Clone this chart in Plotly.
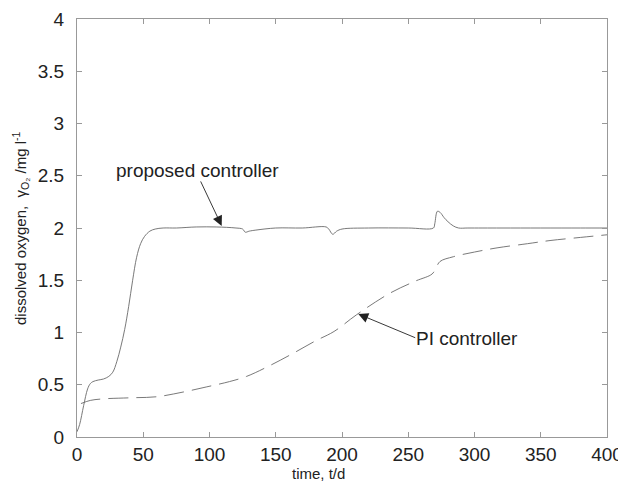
import plotly.graph_objects as go

# Proposed controller (solid line)
prop_t = [0, 2, 5, 8, 10, 12, 16, 20, 24, 27, 30, 33, 36, 39, 42, 45, 48, 51, 55, 59, 65, 75, 90, 105, 120, 125, 127, 130, 135, 150, 170, 188, 190, 193, 196, 200, 220, 250, 269, 270, 272, 274, 277, 280, 284, 288, 295, 320, 350, 380, 400]
prop_y = [0.05, 0.12, 0.3, 0.46, 0.51, 0.53, 0.545, 0.555, 0.58, 0.62, 0.72, 0.86, 1.03, 1.25, 1.5, 1.72, 1.85, 1.92, 1.97, 1.99, 2.0, 2.0, 2.01, 2.01, 2.0, 1.99, 1.96, 1.97, 1.98, 2.0, 2.0, 2.01, 1.99, 1.94, 1.97, 1.99, 2.0, 2.0, 2.0, 2.04, 2.16, 2.15, 2.1, 2.06, 2.02, 2.0, 2.0, 2.0, 2.0, 2.0, 2.0]

# PI controller (dashed line)
pi_t = [3, 10, 20, 40, 60, 80, 98, 115, 128, 145, 163, 180, 194, 211, 236, 255, 268, 271, 274, 284, 300, 317, 340, 357, 380, 400]
pi_y = [0.32, 0.35, 0.365, 0.375, 0.385, 0.43, 0.48, 0.53, 0.58, 0.68, 0.8, 0.92, 1.01, 1.17, 1.375, 1.49, 1.56, 1.62, 1.68, 1.725, 1.77, 1.81, 1.85, 1.88, 1.91, 1.935]

x_ticks = [0, 50, 100, 150, 200, 250, 300, 350, 400]
y_ticks = [0, 0.5, 1, 1.5, 2, 2.5, 3, 3.5, 4]
y_tick_text = ["0", "0.5", "1", "1.5", "2", "2.5", "3", "3.5", "4"]

x_title = "time, t/d"
y_title = "dissolved oxygen,  γ<sub>O₂</sub> /mg l<sup>-1</sup>"

labels = ["proposed controller", "PI controller"]
label_pos = [(91.3, 2.55), (294, 0.94)]
arrow_tail = [(92.8, 2.46), (256.4, 0.944)]
arrow_head = [(109.2, 2.02), (212.3, 1.177)]

fig = go.Figure()
fig.add_trace(go.Scatter(x=prop_t, y=prop_y, mode="lines",
                         line=dict(color="#6a6a6a", width=0.9), line_shape="spline",
                         showlegend=False))
fig.add_trace(go.Scatter(x=pi_t, y=pi_y, mode="lines",
                         line=dict(color="#6a6a6a", width=0.9, dash="20px,8px"),
                         line_shape="spline", showlegend=False))

font = "Liberation Sans, Arial, sans-serif"
for lab, (tx, ty) in zip(labels, label_pos):
    fig.add_annotation(x=tx, y=ty, text=lab, showarrow=False,
                       font=dict(family=font, size=19, color="#222222"))
for (ax, ay), (hx, hy) in zip(arrow_tail, arrow_head):
    fig.add_annotation(x=hx, y=hy, ax=ax, ay=ay, axref="x", ayref="y",
                       xref="x", yref="y", text="", showarrow=True,
                       arrowhead=2, arrowsize=2.2, arrowwidth=0.9,
                       arrowcolor="#222222")

# axis titles
fig.add_annotation(xref="paper", yref="paper", x=0.4566, y=-0.0885,
                   text=x_title, showarrow=False, xanchor="center", yanchor="middle",
                   font=dict(family=font, size=15, color="#222222"))
fig.add_annotation(xref="paper", yref="paper", x=-0.1075, y=0.5,
                   text=y_title, showarrow=False, textangle=-90,
                   xanchor="center", yanchor="middle",
                   font=dict(family=font, size=15, color="#222222"))

axis_common = dict(showline=True, linecolor="#999999", linewidth=1, mirror="ticks",
                   ticks="inside", ticklen=5, tickcolor="#999999",
                   showgrid=False, zeroline=False, automargin=False,
                   tickfont=dict(family=font, size=19, color="#222222"))

fig.update_xaxes(range=[0, 400], tickvals=x_ticks, ticklabelstandoff=0, **axis_common)
fig.update_yaxes(range=[0, 4], tickvals=y_ticks, ticktext=y_tick_text,
                 ticklabelstandoff=8, **axis_common)

# page body has an 8px default margin, so the figure is offset by 8px
fig.update_layout(width=618, height=485, plot_bgcolor="white", paper_bgcolor="white",
                  margin=dict(l=69, r=19, t=11, b=56))
fig.write_html("out.html")
